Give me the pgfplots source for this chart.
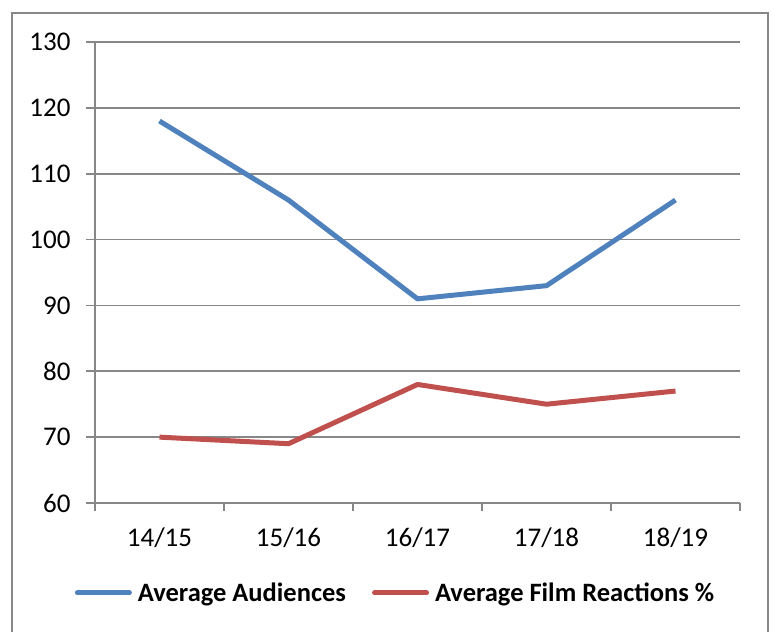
\documentclass[border=0pt]{standalone}
\usepackage{pgfplots}
\pgfplotsset{compat=1.18}
\usepackage{fontspec}
\setmainfont{Carlito}
\definecolor{blueS}{HTML}{4F81BD}
\definecolor{redS}{HTML}{C0504D}
\definecolor{gridC}{HTML}{878787}
\begin{document}
\begin{tikzpicture}[x=1pt,y=1pt]
\useasboundingbox (0,0) rectangle (777,632);
\draw[gridC, line width=2pt] (12,0) -- (12,619) -- (768,619) -- (768,0);
\begin{axis}[
  at={(95pt,129pt)}, anchor=south west,
  scale only axis, width=645pt, height=461pt,
  xmin=-0.5, xmax=4.5, ymin=60, ymax=130,
  ytick={60,70,...,130},
  xtick={0,1,2,3,4},
  xticklabels={14/15,15/16,16/17,17/18,18/19},
  minor xtick={-0.5,0.5,1.5,2.5,3.5,4.5},
  axis x line*=bottom, axis y line*=left,
  axis line style={gridC, line width=1.6pt, -},
  ymajorgrids, major grid style={gridC, line width=1.6pt},
  major x tick style={draw=none},
  minor x tick style={gridC, line width=1.6pt},
  major y tick style={gridC, line width=1.6pt},
  tick align=outside, major tick length=9pt, minor tick length=8pt,
  /pgf/number format/assume math mode=true,
  ticklabel style={font=\fontsize{27}{31}\selectfont, text=black},
  yticklabel style={xshift=-12pt},
  xticklabel style={yshift=-12pt},
  legend columns=2,
  legend style={at={(0.466,-0.195)}, anchor=center, draw=none, fill=none,
    font=\fontsize{26.5}{31}\selectfont\bfseries,
    /tikz/every even column/.append style={column sep=24pt},
    inner sep=0pt},
  legend image code/.code={\draw[#1, line cap=round] (0pt,0pt) -- (52pt,0pt); \path (56pt,0pt);},
]
\addplot[blueS, line width=5pt, line join=round] coordinates {(0,118) (1,106) (2,91) (3,93) (4,106)};
\addlegendentry{Average Audiences}
\addplot[redS, line width=5pt, line join=round] coordinates {(0,70) (1,69) (2,78) (3,75) (4,77)};
\addlegendentry{Average Film Reactions \%}
\end{axis}
\end{tikzpicture}
\end{document}
